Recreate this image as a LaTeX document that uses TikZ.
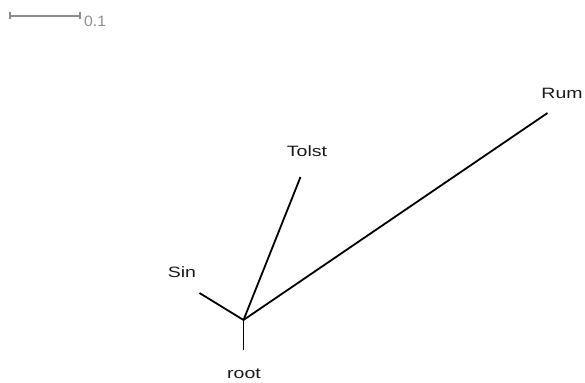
\documentclass[tikz,border=0pt]{standalone}
\usepackage{fontspec}
\setmainfont{Liberation Sans}
\usepackage{xcolor}
\usetikzlibrary{calc}

\definecolor{bargray}{HTML}{8C8C8C}

\tikzset{
  branch/.style={black,line width=1.8pt},
  leaf/.style={black!90,font=\fontsize{15}{17}\selectfont,xscale=1.3,inner sep=0pt}
}

\begin{document}
\begin{tikzpicture}[x=1pt,y=-1pt]
      \useasboundingbox (0,0) rectangle (585,382);
      \coordinate (barL) at (10,16);
      \coordinate (barR) at (80,16);
      \draw [bargray,line width=1.2pt] (barL) -- (barR);
      \draw [bargray,line width=1.2pt] ($(barL)+(0,-3.5)$) -- ($(barL)+(0,3.5)$);
      \draw [bargray,line width=1.2pt] ($(barR)+(0,-3.5)$) -- ($(barR)+(0,3.5)$);
      \node [bargray,font=\fontsize{15}{17}\selectfont,xscale=1.05,inner sep=0pt,anchor=west] (barlab) at (84,21) {0.1};
      \coordinate (fork) at (243.5,320);
      \coordinate (sinEnd) at (199.5,293);
      \coordinate (tolstEnd) at (300.5,177);
      \coordinate (rumEnd) at (547.5,113);
      \coordinate (rootEnd) at (243.5,350);
      \draw [branch,line cap=butt] (fork) -- (sinEnd);
      \draw [branch] (fork) -- (tolstEnd);
      \draw [branch] (fork) -- (rumEnd);
      \draw [branch] (fork) -- (rootEnd);
      \node [leaf] (sin) at (182,272) {Sin};
      \node [leaf] (tolst) at (307,151) {Tolst};
      \node [leaf] (rum) at (562,93) {Rum};
      \node [leaf] (root) at (244,374) {root};
    \end{tikzpicture}
\end{document}
